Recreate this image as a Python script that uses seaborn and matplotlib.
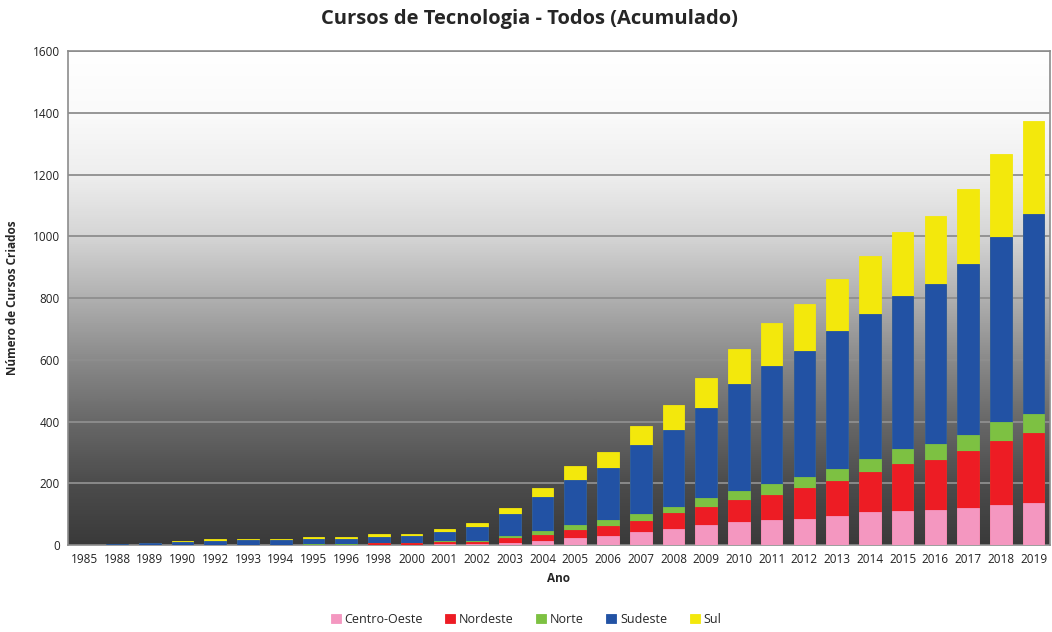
import numpy as np
import pandas as pd
import matplotlib
matplotlib.use('Agg')
import matplotlib.pyplot as plt
import seaborn as sns

# dados (acumulado por regiao)
anos = ['1985', '1988', '1989', '1990', '1992', '1993', '1994', '1995', '1996', '1998',
        '2000', '2001', '2002', '2003', '2004', '2005', '2006', '2007', '2008', '2009',
        '2010', '2011', '2012', '2013', '2014', '2015', '2016', '2017', '2018', '2019']
centro_oeste = [0, 0, 0, 0, 0, 0, 0, 0, 0, 1, 1, 3, 3, 8, 14, 24, 29, 41, 52, 65,
                73, 81, 85, 94, 106, 110, 113, 121, 130, 136]
nordeste = [0, 0, 0, 0, 0, 0, 0, 0, 0, 4, 4, 7, 7, 16, 19, 23, 33, 38, 50, 57,
            73, 81, 100, 113, 131, 153, 162, 182, 208, 226]
norte = [0, 0, 0, 0, 0, 0, 0, 2, 2, 2, 2, 2, 2, 5, 13, 19, 19, 21, 22, 29,
         30, 36, 36, 40, 42, 48, 51, 52, 62, 62]
sudeste = [1, 3, 8, 9, 12, 15, 15, 17, 17, 20, 22, 30, 47, 71, 108, 145, 170, 223, 247, 292,
           346, 383, 409, 447, 470, 497, 519, 556, 599, 649]
sul = [0, 0, 0, 5, 6, 5, 5, 7, 8, 7, 8, 10, 13, 19, 29, 45, 49, 64, 82, 99,
       113, 137, 151, 167, 186, 205, 222, 241, 269, 300]

regioes = ['Centro-Oeste', 'Nordeste', 'Norte', 'Sudeste', 'Sul']
cores = ['#f497c0', '#ed1c24', '#7dc142', '#2252a4', '#f3e80c']

df = pd.DataFrame({'Ano': anos, 'Centro-Oeste': centro_oeste, 'Nordeste': nordeste,
                   'Norte': norte, 'Sudeste': sudeste, 'Sul': sul})
acum = df[regioes].cumsum(axis=1)
acum['Ano'] = df['Ano']

sns.set_style('white')
plt.rcParams['font.family'] = ['Open Sans', 'DejaVu Sans']

fig = plt.figure(figsize=(10.52, 6.32), dpi=100)
ax = fig.add_axes([0.0646, 0.1377, 0.9334, 0.7813])

# empilhado: desenha do topo para a base
for reg, cor in reversed(list(zip(regioes, cores))):
    sns.barplot(data=acum, x='Ano', y=reg, color=cor, width=0.66, ax=ax,
                saturation=1, edgecolor=cor, linewidth=0.6, zorder=3, label=reg)

handles, labels = ax.get_legend_handles_labels()
if ax.get_legend() is not None:
    ax.get_legend().remove()

# fundo em degrade (escuro embaixo, branco em cima)
grad = np.linspace(1, 0, 512).reshape(-1, 1)
cmap = matplotlib.colors.LinearSegmentedColormap.from_list('g', [
    (0.0, '#3a3a3a'), (0.125, '#4c4c4c'), (0.25, '#686868'), (0.375, '#8a8a8a'),
    (0.5, '#b0b0b0'), (0.625, '#d5d5d5'), (0.75, '#eeeeee'), (0.875, '#fafafa'),
    (1.0, '#ffffff')])
ax.imshow(grad, extent=[-0.5, len(anos) - 0.5, 0, 1600], aspect='auto', cmap=cmap,
          origin='upper', zorder=0)
ax.set_xlim(-0.5, len(anos) - 0.5)
ax.set_ylim(0, 1600)
ax.set_yticks(range(0, 1601, 200))

for v in range(200, 1601, 200):
    ax.axhline(v, color='#8e8e8e', linewidth=1.3, zorder=1)

for s in ax.spines.values():
    s.set_color('#8c8c8c')
    s.set_linewidth(1.2)

ax.tick_params(axis='both', length=0, labelsize=8.5, colors='#222222', pad=6)
ax.set_xlabel('Ano', fontsize=8.5, fontweight='bold', labelpad=4)
ax.set_ylabel('Número de Cursos Criados', fontsize=8.5, fontweight='bold', labelpad=10)
fig.suptitle('Cursos de Tecnologia - Todos (Acumulado)', fontsize=14.5, fontweight='bold',
             x=0.503, y=0.985)

order = [labels.index(r) for r in regioes]
fig.legend([handles[i] for i in order], regioes, loc='lower center',
           bbox_to_anchor=(0.5, -0.008), ncol=5, frameon=False, fontsize=9,
           handlelength=0.8, handleheight=0.8, handletextpad=0.3, columnspacing=1.8)

plt.savefig('out.png', dpi=100)
